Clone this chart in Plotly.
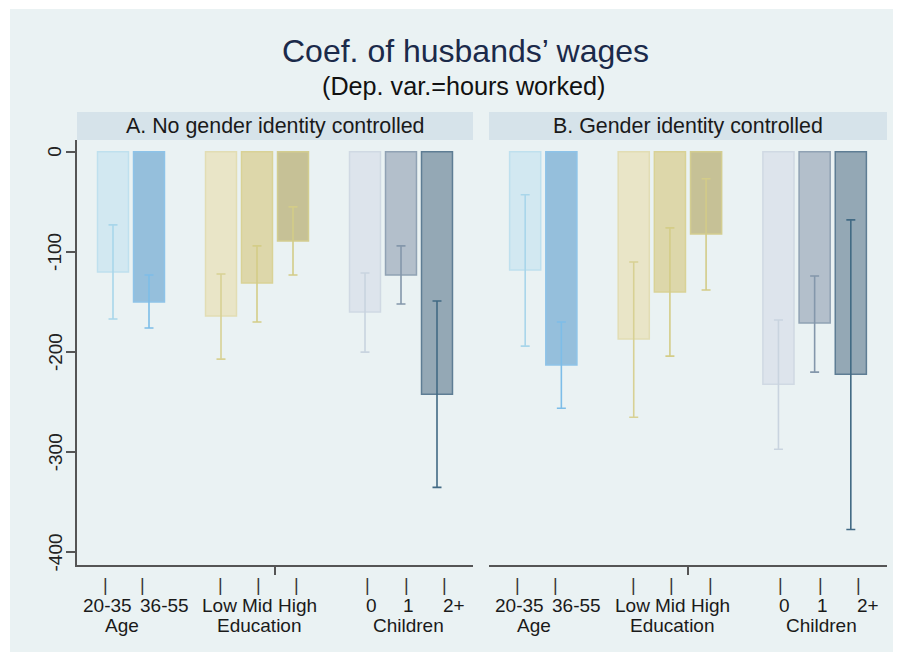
import plotly.graph_objects as go

# ---------------- data ----------------
categories = ["20-35", "36-55", "Low", "Mid", "High", "0", "1", "2+"]
groups = ["Age", "Education", "Children"]
group_sizes = [2, 3, 3]
panels = ["A. No gender identity controlled", "B. Gender identity controlled"]

coef_A = [-120, -150, -164, -131, -89, -160, -123, -242]
ci_lo_A = [-167, -176, -207, -170, -123, -200, -152, -335]
ci_hi_A = [-73, -123, -122, -94, -55, -121, -94, -149]

coef_B = [-118, -213, -187, -140, -82, -232, -171, -222]
ci_lo_B = [-194, -256, -265, -204, -138, -297, -220, -377]
ci_hi_B = [-43, -170, -110, -76, -27, -168, -124, -68]

yticks = [0, -100, -200, -300, -400]

# ---------------- styles ----------------
fill_colors = ["#d2e8f1", "#95bfdc", "#e9e5c7", "#ddd7aa", "#c6c196",
               "#dde4ec", "#b3bfcb", "#94a8b5"]
edge_colors = ["#bfe0ee", "#8ec3e8", "#e2ddb4", "#d9d296", "#d3cd90",
               "#d0d9e3", "#90a2b4", "#5e7d94"]
err_colors = ["#a9d6ea", "#7dbde8", "#d8d194", "#d4cd88", "#d3cc88",
              "#c9d4df", "#8497ab", "#426a84"]

# bar positions: groups separated by one empty slot
positions = []
p = 0
for g in group_sizes:
    for _ in range(g):
        positions.append(p)
        p += 1
    p += 1

# label layout offsets (text placement under the axis, in axis units)
bar_mark_pos = [-0.20, 0.83, 2.99, 4.05, 5.11, 7.07, 8.16, 9.22]
bar_label_pos = [-0.15, 1.42, 2.96, 4.01, 5.13, 7.18, 8.22, 9.47]
group_label_pos = [0.24, 4.08, 8.20]

# page body has an 8px margin: figure is sized/positioned to compensate
OX, OY = 8, 8
W, H = 887, 646
FONT = "Liberation Sans, Arial, sans-serif"
BG = "#eaf2f3"

def px(x):
    return (x - OX) / W

def py(y):
    return 1 - (y - OY) / H

fig = go.Figure()

panel_data = [(coef_A, ci_lo_A, ci_hi_A), (coef_B, ci_lo_B, ci_hi_B)]
xaxes = ["x", "x2"]
for pi, (coef, lo, hi) in enumerate(panel_data):
    for i, cat in enumerate(categories):
        fig.add_trace(go.Bar(
            x=[positions[i]], y=[coef[i]],
            width=0.86,
            marker=dict(color=fill_colors[i],
                        line=dict(color=edge_colors[i], width=1.5)),
            error_y=dict(type="data", symmetric=False,
                         array=[hi[i] - coef[i]],
                         arrayminus=[coef[i] - lo[i]],
                         color=err_colors[i], thickness=1.6, width=4.5),
            xaxis=xaxes[pi], yaxis="y" if pi == 0 else "y2",
            showlegend=False, hoverinfo="skip", name=cat,
        ))

x_doms = [[px(77), px(473)], [px(489), px(887)]]
y_dom = [py(565), py(140)]

common_x = dict(range=[-1, 10], showgrid=False, zeroline=False,
                showline=True, linecolor="#555555", linewidth=1.5,
                tickvals=[4.5], ticktext=[""], ticks="outside", ticklen=8,
                tickcolor="#555555", tickwidth=1.5, fixedrange=True)
fig.update_layout(
    xaxis=dict(domain=x_doms[0], anchor="y", **common_x),
    xaxis2=dict(domain=x_doms[1], anchor="y2", **common_x),
    yaxis=dict(domain=y_dom, anchor="x", range=[-412.5, 11.7],
               tickvals=yticks, showticklabels=False,
               ticks="outside", ticklen=9,
               tickcolor="#555555", tickwidth=1.5,
               showline=True, linecolor="#555555", linewidth=1.5,
               showgrid=True, gridcolor=BG, gridwidth=1.5, zeroline=False),
    yaxis2=dict(domain=y_dom, anchor="x2", range=[-412.5, 11.7],
                matches="y", tickvals=yticks, showticklabels=False,
                ticks="", showline=False,
                showgrid=True, gridcolor=BG, gridwidth=1.5, zeroline=False),
    barmode="overlay",
    width=W, height=H,
    margin=dict(l=0, r=0, t=0, b=0),
    paper_bgcolor="white",
    plot_bgcolor="white",
    font=dict(family=FONT, color="#222222"),
)

shapes = [
    dict(type="rect", xref="paper", yref="paper",
         x0=px(10), x1=px(893), y0=py(652), y1=py(9),
         fillcolor=BG, line=dict(width=0), layer="below"),
]
for d in x_doms:
    shapes.append(dict(type="rect", xref="paper", yref="paper",
                       x0=d[0], x1=d[1], y0=py(140), y1=py(112),
                       fillcolor="#d6e3ea", line=dict(width=0),
                       layer="below"))
fig.update_layout(shapes=shapes)

annotations = [
    dict(text="Coef. of husbands’ wages", x=px(465), y=py(51),
         xref="paper", yref="paper", showarrow=False,
         font=dict(family=FONT, size=32, color="#1b2a4a"),
         xanchor="center", yanchor="middle"),
    dict(text="(Dep. var.=hours worked)", x=px(463.5), y=py(86),
         xref="paper", yref="paper", showarrow=False,
         font=dict(family=FONT, size=25.2, color="#111111"),
         xanchor="center", yanchor="middle"),
]
# rotated y tick labels
for v in yticks:
    annotations.append(dict(text=str(v), x=px(55), y=v, xref="paper", yref="y",
                            textangle=-90, showarrow=False,
                            font=dict(family=FONT, size=19, color="#222222"),
                            xanchor="center", yanchor="middle"))
for pi, d in enumerate(x_doms):
    annotations.append(dict(text=panels[pi], x=(d[0] + d[1]) / 2, y=py(126),
                            xref="paper", yref="paper", showarrow=False,
                            font=dict(family=FONT, size=21.4, color="#1a1a1a"),
                            xanchor="center", yanchor="middle"))
    xr = xaxes[pi]
    for i, cat in enumerate(categories):
        annotations.append(dict(text="|", x=bar_mark_pos[i], y=py(585),
                                xref=xr, yref="paper", showarrow=False,
                                font=dict(family=FONT, size=18, color="#333333"),
                                xanchor="center", yanchor="middle"))
        annotations.append(dict(text=cat, x=bar_label_pos[i], y=py(605),
                                xref=xr, yref="paper", showarrow=False,
                                font=dict(family=FONT, size=19, color="#1a1a1a"),
                                xanchor="center", yanchor="middle"))
    for g, gpos in zip(groups, group_label_pos):
        annotations.append(dict(text=g, x=gpos, y=py(625),
                                xref=xr, yref="paper", showarrow=False,
                                font=dict(family=FONT, size=19, color="#1a1a1a"),
                                xanchor="center", yanchor="middle"))
fig.update_layout(annotations=annotations)

fig.write_html("out.html")
